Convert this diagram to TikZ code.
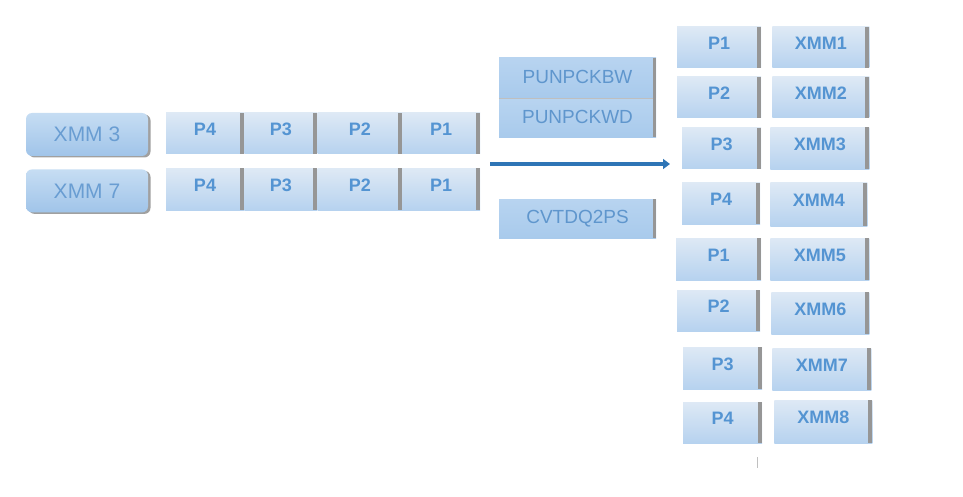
\documentclass[tikz,border=0pt]{standalone}
\usepackage{fontspec}
\setmainfont{Liberation Sans}
\usepackage{tikz}
\usetikzlibrary{arrows.meta, positioning, shadows}

\definecolor{txtblue}{RGB}{84,148,210}
\definecolor{optext}{RGB}{95,150,205}
\definecolor{regtext}{RGB}{105,157,210}
\definecolor{arrowblue}{RGB}{46,117,182}
\definecolor{bargray}{RGB}{150,150,150}
\definecolor{celltop}{RGB}{222,233,245}
\definecolor{cellmid}{RGB}{240,246,252}
\definecolor{cellbot}{RGB}{182,210,239}
\definecolor{optop}{RGB}{184,212,240}
\definecolor{opmid}{RGB}{206,225,245}
\definecolor{opbot}{RGB}{168,202,236}
\definecolor{regtop}{RGB}{198,221,243}
\definecolor{regbot}{RGB}{160,196,233}

\tikzset{
    rbar/.style={path picture={\fill[bargray] ([xshift=-#1]path picture bounding box.north east) rectangle (path picture bounding box.south east);}},
    rbar/.default=4pt,
    cell/.style={rectangle, inner sep=0pt, minimum height=41pt,
        top color=celltop, middle color=cellmid, bottom color=cellbot, rbar,
        text=txtblue, font=\fontsize{18}{20}\selectfont\bfseries, text depth=8pt},
    op/.style={rectangle, inner sep=0pt, minimum width=157pt, minimum height=40pt,
        top color=optop, middle color=opmid, bottom color=opbot, rbar=3pt,
        text=optext, font=\fontsize{19}{22}\selectfont, text depth=3pt},
    reg/.style={rectangle, rounded corners=6pt, inner sep=0pt, minimum width=122pt, minimum height=43pt,
        top color=regtop, bottom color=regbot, text=regtext, font=\fontsize{21}{24}\selectfont,
        drop shadow={shadow xshift=2.5pt, shadow yshift=-1.5pt, fill=bargray, opacity=0.9}},
    flow/.style={-{Triangle[length=7pt,width=10pt]}, line width=3.5pt, arrowblue},
    sepline/.style={line width=0.6pt, black!25}
}

\begin{document}
\begin{tikzpicture}[x=1pt, y=-1pt]
    \useasboundingbox (0,0) rectangle (963,497);

    % source registers
    \node (x3) [reg] at (87,134.5) {XMM 3};
    \node (x7) [reg, below=13pt of x3] {XMM 7};

    \node (a4) [cell, minimum width=78pt] at (205,133.5) {P4};
    \node (a3) [cell, minimum width=73pt, right=0pt of a4] {P3};
    \node (a2) [cell, minimum width=84pt, right=0pt of a3] {P2};
    \node (a1) [cell, minimum width=78pt, right=0pt of a2] {P1};

    \node (b4) [cell, minimum width=78pt, minimum height=42pt, below=14pt of a4] {P4};
    \node (b3) [cell, minimum width=73pt, minimum height=42pt, right=0pt of b4] {P3};
    \node (b2) [cell, minimum width=84pt, minimum height=42pt, right=0pt of b3] {P2};
    \node (b1) [cell, minimum width=78pt, minimum height=42pt, right=0pt of b2] {P1};

    % instructions
    \node (bw) [op] at (577.5,78) {PUNPCKBW};
    \node (wd) [op, minimum height=39pt, below=0pt of bw] {PUNPCKWD};
    \node (cv) [op, minimum height=39pt] at (577.5,218.5) {CVTDQ2PS};
    \draw [sepline] (bw.south west) -- ([xshift=-3pt]bw.south east);

    \coordinate (src) at (490,164);
    \coordinate (dst) at (670,164);
    \draw [flow] (src) -- (dst);

    % results
    \node (r1) [cell, minimum width=84pt] at (719,47.5) {P1};
    \node (m1) [cell, minimum width=97pt, right=11pt of r1] {XMM1};
    \node (r2) [cell, minimum width=84pt] at (719,97.5) {P2};
    \node (m2) [cell, minimum width=97pt, right=11pt of r2] {XMM2};
    \node (r3) [cell, minimum width=79pt] at (721.5,148.5) {P3};
    \node (m3) [cell, minimum width=99pt, minimum height=42pt, right=9pt of r3] {XMM3};
    \node (r4) [cell, minimum width=78pt] at (721,203.5) {P4};
    \node (m4) [cell, minimum width=97pt, minimum height=43pt, right=10pt of r4, yshift=-1pt] {XMM4};
    \node (r5) [cell, minimum width=85pt, minimum height=42pt] at (718.5,259) {P1};
    \node (m5) [cell, minimum width=99pt, minimum height=42pt, right=9pt of r5] {XMM5};
    \node (r6) [cell, minimum width=83pt] at (718.5,310.5) {P2};
    \node (m6) [cell, minimum width=98pt, minimum height=42pt, right=11pt of r6, yshift=-2.5pt] {XMM6};
    \node (r7) [cell, minimum width=79pt, minimum height=42pt] at (722.5,368) {P3};
    \node (m7) [cell, minimum width=99pt, minimum height=42pt, right=10pt of r7, yshift=-1pt] {XMM7};
    \node (r8) [cell, minimum width=79pt] at (722.5,422.5) {P4};
    \node (m8) [cell, minimum width=98pt, minimum height=43pt, right=12pt of r8, yshift=1pt] {XMM8};

    \draw [bargray!60, line width=0.8pt] (757,457) -- (757,468);
\end{tikzpicture}
\end{document}
